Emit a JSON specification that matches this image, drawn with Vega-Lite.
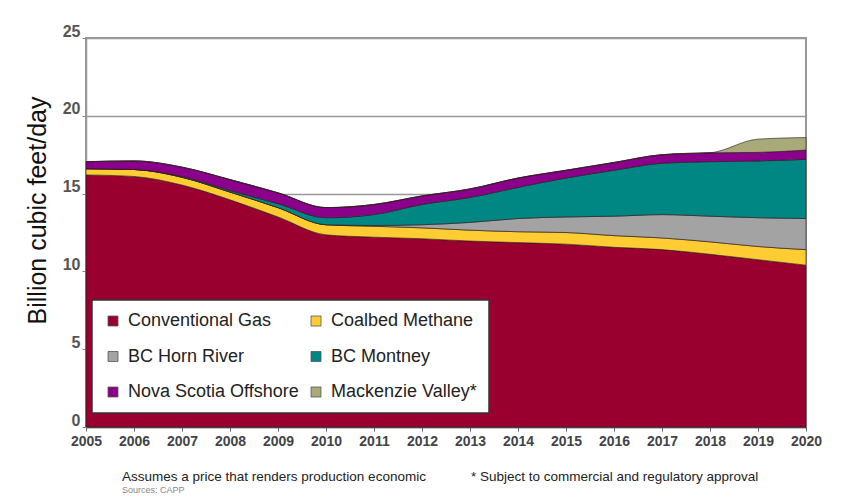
{
  "$schema": "https://vega.github.io/schema/vega-lite/v6.json",
  "width": 720,
  "height": 389,
  "autosize": {"type": "none"},
  "padding": {"left": 86, "top": 38, "right": 37, "bottom": 70},
  "background": "white",
  "title": {
    "text": "Assumes a price that renders production economic\u00a0\u00a0\u00a0\u00a0\u00a0\u00a0\u00a0\u00a0\u00a0\u00a0\u00a0\u00a0* Subject to commercial and regulatory approval",
    "subtitle": "Sources: CAPP",
    "orient": "bottom",
    "anchor": "start",
    "frame": "group",
    "dx": 36,
    "offset": 22,
    "font": "Liberation Sans",
    "fontSize": 13.5,
    "fontWeight": "normal",
    "color": "#222",
    "subtitleFont": "Liberation Sans",
    "subtitleFontSize": 9,
    "subtitleColor": "#888",
    "subtitlePadding": 2
  },
  "data": {
    "values": [
      {"year": 2005, "source": "Conventional Gas", "value": 16.2},
      {"year": 2006, "source": "Conventional Gas", "value": 16.1},
      {"year": 2007, "source": "Conventional Gas", "value": 15.55},
      {"year": 2008, "source": "Conventional Gas", "value": 14.6},
      {"year": 2009, "source": "Conventional Gas", "value": 13.5},
      {"year": 2010, "source": "Conventional Gas", "value": 12.35},
      {"year": 2011, "source": "Conventional Gas", "value": 12.2},
      {"year": 2012, "source": "Conventional Gas", "value": 12.1},
      {"year": 2013, "source": "Conventional Gas", "value": 11.95},
      {"year": 2014, "source": "Conventional Gas", "value": 11.85},
      {"year": 2015, "source": "Conventional Gas", "value": 11.75},
      {"year": 2016, "source": "Conventional Gas", "value": 11.55},
      {"year": 2017, "source": "Conventional Gas", "value": 11.4},
      {"year": 2018, "source": "Conventional Gas", "value": 11.1},
      {"year": 2019, "source": "Conventional Gas", "value": 10.75},
      {"year": 2020, "source": "Conventional Gas", "value": 10.4},
      {"year": 2005, "source": "Coalbed Methane", "value": 0.4},
      {"year": 2006, "source": "Coalbed Methane", "value": 0.45},
      {"year": 2007, "source": "Coalbed Methane", "value": 0.5},
      {"year": 2008, "source": "Coalbed Methane", "value": 0.5},
      {"year": 2009, "source": "Coalbed Methane", "value": 0.6},
      {"year": 2010, "source": "Coalbed Methane", "value": 0.65},
      {"year": 2011, "source": "Coalbed Methane", "value": 0.7},
      {"year": 2012, "source": "Coalbed Methane", "value": 0.7},
      {"year": 2013, "source": "Coalbed Methane", "value": 0.7},
      {"year": 2014, "source": "Coalbed Methane", "value": 0.7},
      {"year": 2015, "source": "Coalbed Methane", "value": 0.75},
      {"year": 2016, "source": "Coalbed Methane", "value": 0.75},
      {"year": 2017, "source": "Coalbed Methane", "value": 0.75},
      {"year": 2018, "source": "Coalbed Methane", "value": 0.8},
      {"year": 2019, "source": "Coalbed Methane", "value": 0.85},
      {"year": 2020, "source": "Coalbed Methane", "value": 1.0},
      {"year": 2005, "source": "BC Horn River", "value": 0},
      {"year": 2006, "source": "BC Horn River", "value": 0},
      {"year": 2007, "source": "BC Horn River", "value": 0},
      {"year": 2008, "source": "BC Horn River", "value": 0},
      {"year": 2009, "source": "BC Horn River", "value": 0},
      {"year": 2010, "source": "BC Horn River", "value": 0},
      {"year": 2011, "source": "BC Horn River", "value": 0.05},
      {"year": 2012, "source": "BC Horn River", "value": 0.2},
      {"year": 2013, "source": "BC Horn River", "value": 0.5},
      {"year": 2014, "source": "BC Horn River", "value": 0.85},
      {"year": 2015, "source": "BC Horn River", "value": 1.0},
      {"year": 2016, "source": "BC Horn River", "value": 1.25},
      {"year": 2017, "source": "BC Horn River", "value": 1.5},
      {"year": 2018, "source": "BC Horn River", "value": 1.65},
      {"year": 2019, "source": "BC Horn River", "value": 1.85},
      {"year": 2020, "source": "BC Horn River", "value": 2.0},
      {"year": 2005, "source": "BC Montney", "value": 0},
      {"year": 2006, "source": "BC Montney", "value": 0},
      {"year": 2007, "source": "BC Montney", "value": 0.05},
      {"year": 2008, "source": "BC Montney", "value": 0.1},
      {"year": 2009, "source": "BC Montney", "value": 0.25},
      {"year": 2010, "source": "BC Montney", "value": 0.45},
      {"year": 2011, "source": "BC Montney", "value": 0.7},
      {"year": 2012, "source": "BC Montney", "value": 1.3},
      {"year": 2013, "source": "BC Montney", "value": 1.6},
      {"year": 2014, "source": "BC Montney", "value": 2.0},
      {"year": 2015, "source": "BC Montney", "value": 2.5},
      {"year": 2016, "source": "BC Montney", "value": 2.95},
      {"year": 2017, "source": "BC Montney", "value": 3.3},
      {"year": 2018, "source": "BC Montney", "value": 3.5},
      {"year": 2019, "source": "BC Montney", "value": 3.65},
      {"year": 2020, "source": "BC Montney", "value": 3.8},
      {"year": 2005, "source": "Nova Scotia Offshore", "value": 0.45},
      {"year": 2006, "source": "Nova Scotia Offshore", "value": 0.55},
      {"year": 2007, "source": "Nova Scotia Offshore", "value": 0.6},
      {"year": 2008, "source": "Nova Scotia Offshore", "value": 0.7},
      {"year": 2009, "source": "Nova Scotia Offshore", "value": 0.7},
      {"year": 2010, "source": "Nova Scotia Offshore", "value": 0.65},
      {"year": 2011, "source": "Nova Scotia Offshore", "value": 0.65},
      {"year": 2012, "source": "Nova Scotia Offshore", "value": 0.55},
      {"year": 2013, "source": "Nova Scotia Offshore", "value": 0.55},
      {"year": 2014, "source": "Nova Scotia Offshore", "value": 0.6},
      {"year": 2015, "source": "Nova Scotia Offshore", "value": 0.5},
      {"year": 2016, "source": "Nova Scotia Offshore", "value": 0.5},
      {"year": 2017, "source": "Nova Scotia Offshore", "value": 0.55},
      {"year": 2018, "source": "Nova Scotia Offshore", "value": 0.57},
      {"year": 2019, "source": "Nova Scotia Offshore", "value": 0.55},
      {"year": 2020, "source": "Nova Scotia Offshore", "value": 0.6},
      {"year": 2005, "source": "Mackenzie Valley*", "value": 0},
      {"year": 2006, "source": "Mackenzie Valley*", "value": 0},
      {"year": 2007, "source": "Mackenzie Valley*", "value": 0},
      {"year": 2008, "source": "Mackenzie Valley*", "value": 0},
      {"year": 2009, "source": "Mackenzie Valley*", "value": 0},
      {"year": 2010, "source": "Mackenzie Valley*", "value": 0},
      {"year": 2011, "source": "Mackenzie Valley*", "value": 0},
      {"year": 2012, "source": "Mackenzie Valley*", "value": 0},
      {"year": 2013, "source": "Mackenzie Valley*", "value": 0},
      {"year": 2014, "source": "Mackenzie Valley*", "value": 0},
      {"year": 2015, "source": "Mackenzie Valley*", "value": 0},
      {"year": 2016, "source": "Mackenzie Valley*", "value": 0},
      {"year": 2017, "source": "Mackenzie Valley*", "value": 0},
      {"year": 2018, "source": "Mackenzie Valley*", "value": 0},
      {"year": 2019, "source": "Mackenzie Valley*", "value": 0.85},
      {"year": 2020, "source": "Mackenzie Valley*", "value": 0.8}
    ]
  },
  "transform": [
    {"calculate": "indexof(['Conventional Gas','Coalbed Methane','BC Horn River','BC Montney','Nova Scotia Offshore','Mackenzie Valley*'], datum.source)", "as": "ord"}
  ],
  "mark": {"type": "area", "interpolate": "monotone", "stroke": "#2a1a1a", "strokeWidth": 0.8, "strokeOpacity": 0.8},
  "encoding": {
    "x": {
      "field": "year",
      "type": "quantitative",
      "scale": {"domain": [2005, 2020], "nice": false, "zero": false},
      "axis": {
        "values": [2005, 2006, 2007, 2008, 2009, 2010, 2011, 2012, 2013, 2014, 2015, 2016, 2017, 2018, 2019, 2020],
        "format": "d",
        "title": null,
        "grid": false,
        "labelFont": "Liberation Sans",
        "labelFontSize": 14,
        "labelFontWeight": "bold",
        "labelColor": "#444",
        "labelFlush": false,
        "labelPadding": 3,
        "tickSize": 4,
        "tickColor": "#666",
        "domainColor": "#555",
        "domainWidth": 1.5
      }
    },
    "y": {
      "field": "value",
      "type": "quantitative",
      "stack": "zero",
      "scale": {"domain": [0, 25], "nice": false},
      "axis": {
        "values": [0, 5, 10, 15, 20, 25],
        "title": "Billion cubic feet/day",
        "titleFont": "Liberation Sans",
        "titleFontSize": 25,
        "titleFontWeight": "normal",
        "titleColor": "#111",
        "titlePadding": 12,
        "titleY": 172,
        "labelFont": "Liberation Sans",
        "labelFontSize": 16,
        "labelFontWeight": "bold",
        "labelColor": "#555",
        "labelPadding": 2,
        "labelOffset": -7,
        "tickSize": 4,
        "tickColor": "#888",
        "domainColor": "#999",
        "domainWidth": 1.5,
        "grid": true,
        "gridColor": "#999",
        "gridWidth": 1.6
      }
    },
    "color": {
      "field": "source",
      "type": "nominal",
      "scale": {
        "domain": ["Conventional Gas", "BC Horn River", "Nova Scotia Offshore", "Coalbed Methane", "BC Montney", "Mackenzie Valley*"],
        "range": ["#990030", "#A3A3A3", "#8B008B", "#FFCC33", "#008683", "#A9AA7A"]
      },
      "legend": {
        "title": null,
        "orient": "none",
        "legendX": 6,
        "legendY": 262,
        "columns": 2,
        "columnPadding": 8,
        "rowPadding": 17.5,
        "padding": 12,
        "fillColor": "white",
        "strokeColor": "#333",
        "symbolType": "square",
        "symbolSize": 100,
        "symbolStrokeColor": "#555",
        "symbolStrokeWidth": 0.8,
        "symbolOpacity": 1,
        "labelFont": "Liberation Sans",
        "labelFontSize": 18,
        "labelColor": "#222",
        "labelOffset": 6,
        "labelLimit": 300,
        "encode": {"legend": {"update": {"strokeWidth": {"value": 1.5}}}}
      }
    },
    "order": {"field": "ord", "type": "quantitative"}
  },
  "config": {
    "view": {"stroke": "#999", "strokeWidth": 2}
  }
}
